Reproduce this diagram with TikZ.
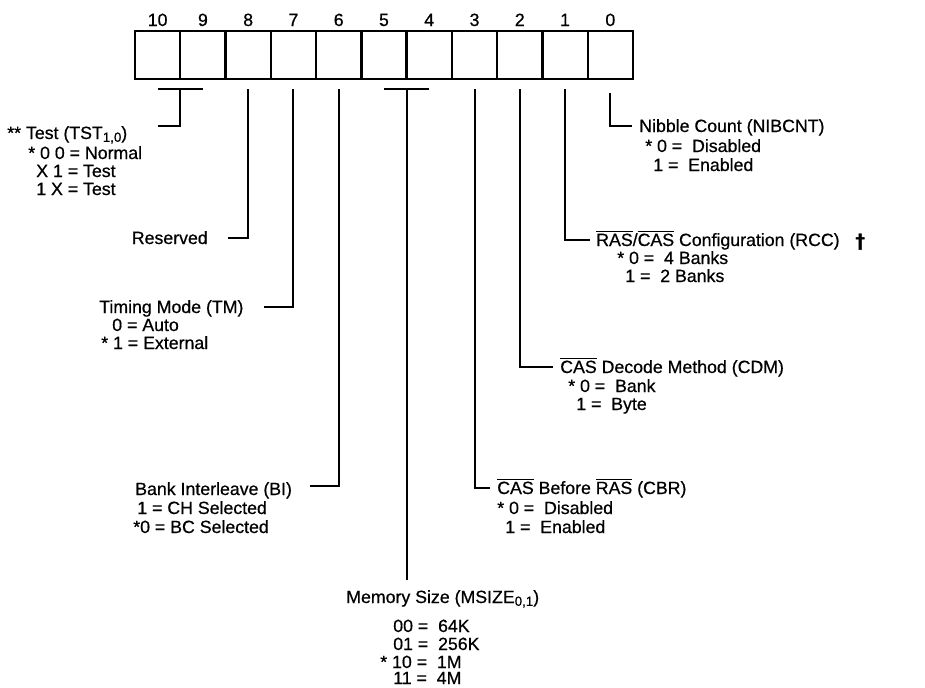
\documentclass[tikz,border=0pt]{standalone}
\usepackage{fontspec}
\setmainfont{Liberation Sans}[UprightFeatures={FakeBold=0.6}]
\newfontfamily\dagfont{DejaVu Sans}
\newcommand{\ovl}[1]{\ensuremath{\overline{\hbox{#1}}}}
\newcommand{\sbs}[1]{\raisebox{-0.3ex}{\fontsize{10}{10}\selectfont #1}}
\tikzset{
  cell/.style={draw, line width=1.8pt, minimum width=33.95pt, minimum height=36pt, inner sep=0pt},
  bitnum/.style={anchor=base, inner sep=0pt, font=\fontsize{13.3}{15}\selectfont},
  lbl/.style={anchor=base west, inner sep=0pt, font=\fontsize{13.3}{15}\selectfont},
  lble/.style={anchor=base east, inner sep=0pt, font=\fontsize{13.3}{15}\selectfont},
  lead/.style={line width=1.5pt}
}
\begin{document}
\begin{tikzpicture}[x=0.75pt, y=-0.75pt]
\useasboundingbox (0,0) rectangle (925,687);
\fill[white] (0,0) rectangle (925,687);
% register
\foreach \b [count=\k from 0] in {10,9,...,0} {
  \node[cell] (cell\b) at ({135+(\k+0.5)*45.27}, 55) {};
  \node[bitnum] (num\b) at ({135+(\k+0.5)*45.27}, 26) {\b};
}
% Test bits 10,9
\coordinate (t10) at (157.6,89);
\coordinate (t9) at (202.9,89);
\coordinate (t109) at (180.3,89);
\coordinate (e109) at (158,126);
\draw[lead] (t10) -- (t9);
\draw[lead] (t109) |- (e109);
\node[lbl] (tst) at (7,139) {** Test (TST\sbs{1,0})};
\node[lbl] (tst1) at (28,159) {* 0 0 = Normal};
\node[lbl] (tst2) at (36,177) {X 1 = Test};
\node[lbl] (tst3) at (36,195) {1 X = Test};
% bit 8
\coordinate (t8) at (248.2,89);
\coordinate (e8) at (228,238);
\draw[lead] (t8) |- (e8);
\node[lble] (res) at (208,244) {Reserved};
% bit 7
\coordinate (t7) at (293.4,89);
\coordinate (e7) at (264,307);
\draw[lead] (t7) |- (e7);
\node[lbl] (tm) at (99,313) {Timing Mode (TM)};
\node[lbl] (tm1) at (112,331) {0 = Auto};
\node[lbl] (tm2) at (101,349) {* 1 = External};
% bit 6
\coordinate (t6) at (338.7,89);
\coordinate (e6) at (310,486);
\draw[lead] (t6) |- (e6);
\node[lbl] (bi) at (135,495) {Bank Interleave (BI)};
\node[lbl] (bi1) at (137,514) {1 = CH Selected};
\node[lbl] (bi2) at (133,533) {*0 = BC Selected};
% bits 5,4
\coordinate (t5) at (384.0,89);
\coordinate (t4) at (429.3,89);
\coordinate (t54) at (406.6,89);
\coordinate (e54) at (406.6,580);
\draw[lead] (t5) -- (t4);
\draw[lead] (t54) -- (e54);
\node[lbl] (ms) at (346,603) {Memory Size (MSIZE\sbs{0,1})};
\node[lbl] (ms1) at (393,632) {00 =\ \ 64K};
\node[lbl] (ms2) at (393,650) {01 =\ \ 256K};
\node[lbl] (ms3) at (380,668) {* 10 =\ \ 1M};
\node[lbl] (ms4) at (393,684) {11 =\ \ 4M};
% bit 3
\coordinate (t3) at (474.6,89);
\coordinate (e3) at (490,488);
\draw[lead] (t3) |- (e3);
\node[lbl] (cbr) at (497,494) {\ovl{CAS} Before \ovl{RAS} (CBR)};
\node[lbl] (cbr1) at (497,514) {* 0 =\ \ Disabled};
\node[lbl] (cbr2) at (505,533) {1 =\ \ Enabled};
% bit 2
\coordinate (t2) at (519.8,89);
\coordinate (e2) at (553,367);
\draw[lead] (t2) |- (e2);
\node[lbl] (cdm) at (560,373) {\ovl{CAS} Decode Method (CDM)};
\node[lbl] (cdm1) at (568,392) {* 0 =\ \ Bank};
\node[lbl] (cdm2) at (576,410) {1 =\ \ Byte};
% bit 1
\coordinate (t1) at (565.1,89);
\coordinate (e1) at (590,240);
\draw[lead] (t1) |- (e1);
\node[lbl] (rcc) at (596,246) {\ovl{RAS}/\ovl{CAS} Configuration (RCC)};
\node[lbl] (dag) at (855,248) {\dagfont\bfseries\fontsize{15}{15}\selectfont †};
\node[lbl] (rcc1) at (617,264) {* 0 =\ \ 4 Banks};
\node[lbl] (rcc2) at (625,282) {1 =\ \ 2 Banks};
% bit 0
\coordinate (t0) at (610.4,93);
\coordinate (e0) at (632,126);
\draw[lead] (t0) |- (e0);
\node[lbl] (nib) at (639,132) {Nibble Count (NIBCNT)};
\node[lbl] (nib1) at (645,152) {* 0 =\ \ Disabled};
\node[lbl] (nib2) at (653,171) {1 =\ \ Enabled};
\end{tikzpicture}
\end{document}
